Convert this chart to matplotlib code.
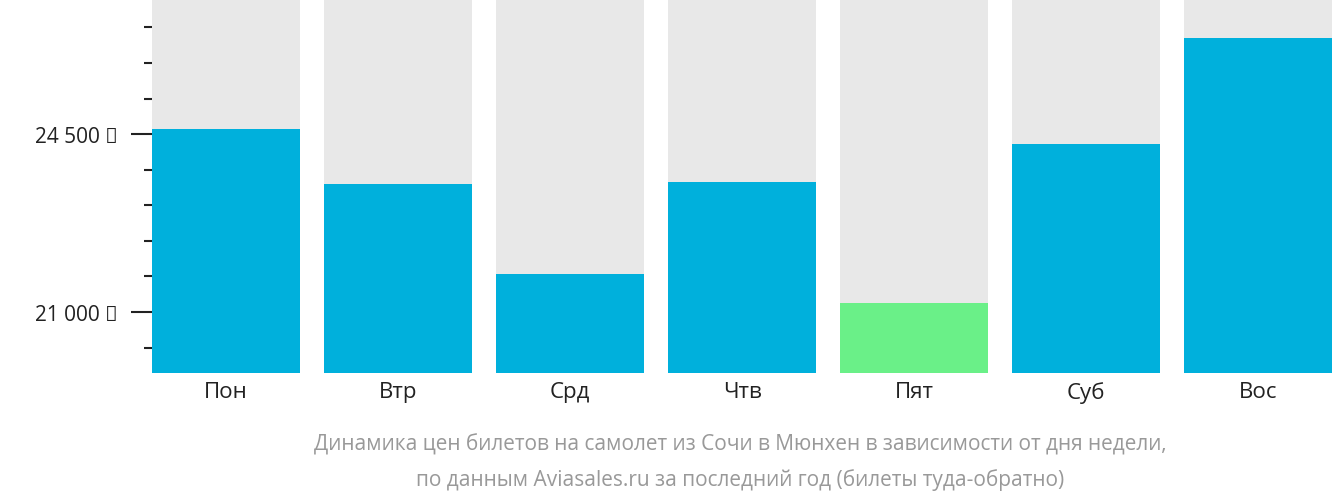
import matplotlib
matplotlib.use("Agg")
import matplotlib.pyplot as plt
from matplotlib.ticker import MultipleLocator, FuncFormatter

days = ["Пон", "Втр", "Срд", "Чтв", "Пят", "Суб", "Вос"]
prices = [24600, 23520, 21750, 23560, 21180, 24310, 26390]
colors = ["#00b0dc", "#00b0dc", "#00b0dc", "#00b0dc", "#6af088", "#00b0dc", "#00b0dc"]

plt.rcParams["font.family"] = "Open Sans"
fig = plt.figure(figsize=(13.32, 5.02), dpi=100)
ax = fig.add_axes([152/1332, 1-374/502, 1180/1332, 374/502])
ymin, ymax = 19800, 27160
x = range(len(days))
ax.bar(x, [ymax - ymin]*len(days), bottom=ymin, width=0.86, color="#e8e8e8")
ax.bar(x, [p - ymin for p in prices], bottom=ymin, width=0.86, color=colors)
ax.set_ylim(ymin, ymax)
ax.set_xlim(-0.43, 6.43)
for s in ax.spines.values():
    s.set_visible(False)
ax.yaxis.set_major_locator(MultipleLocator(3500))
ax.yaxis.set_minor_locator(MultipleLocator(700))
ax.yaxis.set_major_formatter(FuncFormatter(lambda v, p: f"{int(v):,} ₽".replace(",", " ")))
ax.tick_params(axis="y", which="major", length=15, width=1.5, pad=10, labelsize=15, color="#222", labelcolor="#222")
ax.tick_params(axis="y", which="minor", length=6, width=1.5, color="#222")
ax.tick_params(axis="y", which="both", direction="out")
ax.yaxis.set_tick_params(which="both", pad=10)
ax.set_xticks(list(x))
ax.set_xticklabels(days, fontsize=16, color="#222")
ax.tick_params(axis="x", length=0, pad=6)
# offset ticks from axis
for t in ax.yaxis.get_major_ticks() + ax.yaxis.get_minor_ticks():
    pass
fig.text(0.556, 1-445/502, "Динамика цен билетов на самолет из Сочи в Мюнхен в зависимости от дня недели,",
         ha="center", va="center", fontsize=15, color="#999")
fig.text(0.556, 1-480/502, "по данным Aviasales.ru за последний год (билеты туда-обратно)",
         ha="center", va="center", fontsize=15, color="#999")
fig.savefig("out.png", dpi=100)
